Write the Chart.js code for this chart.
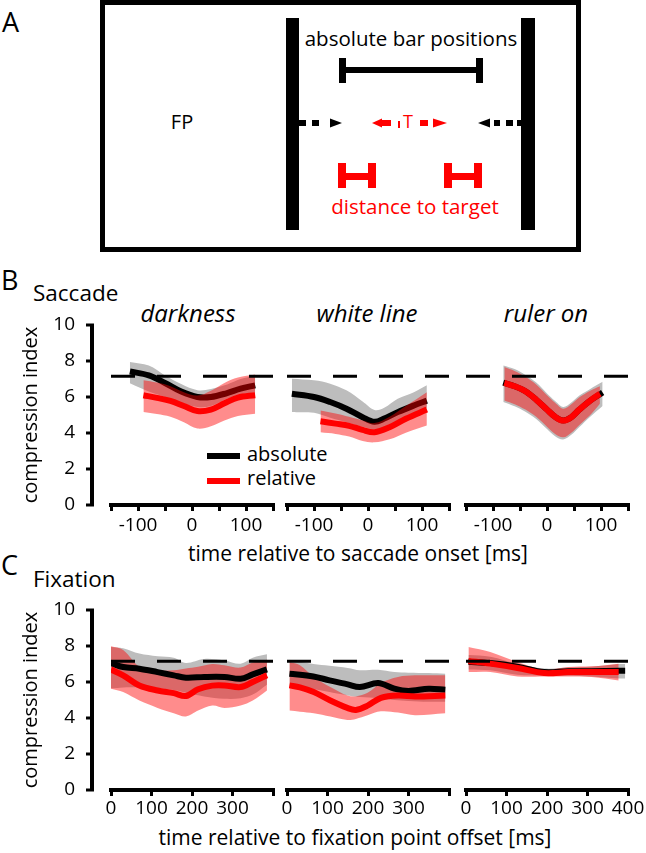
<!DOCTYPE html>
<html><head><meta charset="utf-8">
<script src="https://cdn.jsdelivr.net/npm/chart.js"></script>
<style>
html,body{margin:0;padding:0;background:#fff;}
#fig{position:relative;width:646px;height:853px;overflow:hidden;font-family:'Open Sans',sans-serif;color:#000;background:#fff;}
.t{position:absolute;white-space:nowrap;line-height:1;}
.c{transform:translateX(-50%);}
.lg{position:absolute;height:6px;width:33px;}
canvas{position:absolute;}
</style></head><body>
<div id="fig">
<svg width="646" height="256" style="position:absolute;left:0;top:0" font-family="'Open Sans', sans-serif">
 <rect x="102.5" y="2.5" width="476" height="247" fill="none" stroke="#000" stroke-width="5"/>
 <rect x="286" y="18" width="13" height="212" fill="#000"/>
 <rect x="521" y="18" width="14" height="212" fill="#000"/>
 <text x="411" y="46" font-size="20.5" text-anchor="middle" fill="#000">absolute bar positions</text>
 <rect x="342" y="67" width="138" height="6" fill="#000"/>
 <rect x="339" y="58" width="7" height="25" fill="#000"/>
 <rect x="476" y="58" width="7" height="25" fill="#000"/>
 <text x="182" y="129" font-size="20" text-anchor="middle" fill="#000">FP</text>
 <rect x="299" y="120" width="7" height="6" fill="#000"/>
 <rect x="312" y="120" width="7" height="6" fill="#000"/>
 <polygon points="330,118.5 342,123 330,127.5" fill="#000"/>
 <polygon points="382,118.5 372,123 382,127.5" fill="#f00"/>
 <rect x="382" y="120" width="9" height="6" fill="#f00"/>
 <rect x="398" y="121" width="2" height="7" fill="#f00"/>
 <text x="408" y="128" font-size="18" text-anchor="middle" fill="#f00">T</text>
 <rect x="420" y="120" width="8" height="6" fill="#f00"/>
 <polygon points="433,118.5 447,123 433,127.5" fill="#f00"/>
 <polygon points="490,118.5 478,123 490,127.5" fill="#000"/>
 <rect x="494" y="120" width="6" height="6" fill="#000"/>
 <rect x="506" y="120" width="7" height="6" fill="#000"/>
 <rect x="517" y="120" width="5" height="6" fill="#000"/>
 <rect x="338" y="163" width="8" height="25" fill="#f00"/>
 <rect x="368" y="163" width="8" height="25" fill="#f00"/>
 <rect x="346" y="173" width="22" height="7" fill="#f00"/>
 <rect x="444" y="163" width="8" height="25" fill="#f00"/>
 <rect x="474" y="163" width="8" height="25" fill="#f00"/>
 <rect x="452" y="173" width="22" height="7" fill="#f00"/>
 <text x="415" y="214" font-size="20.5" text-anchor="middle" fill="#f00">distance to target</text>
</svg>
<div class="t" style="left:2px;top:8px;font-size:27px">A</div>
<div class="t" style="left:1px;top:266px;font-size:27px">B</div>
<div class="t" style="left:1px;top:551px;font-size:27px">C</div>
<div class="t" style="left:33px;top:282px;font-size:22.5px">Saccade</div>
<div class="t" style="left:33px;top:568px;font-size:22.5px">Fixation</div>
<div class="t c" style="left:188px;top:301px;font-size:24px;font-style:italic">darkness</div>
<div class="t c" style="left:367px;top:301px;font-size:24px;font-style:italic">white line</div>
<div class="t c" style="left:546px;top:301px;font-size:24px;font-style:italic">ruler on</div>
<div class="lg" style="left:207px;top:453px;background:#000"></div>
<div class="lg" style="left:207px;top:478px;background:#f00"></div>
<div class="t" style="left:247px;top:444px;font-size:20px">absolute</div>
<div class="t" style="left:247px;top:468px;font-size:20px">relative</div>
<div class="t c" style="left:358px;top:543px;font-size:21px">time relative to saccade onset [ms]</div>
<div class="t c" style="left:355px;top:827px;font-size:21px">time relative to fixation point offset [ms]</div>
<canvas id="b1" width="285" height="232" style="left:0;top:313px"></canvas>
<canvas id="b2" width="186" height="232" style="left:275px;top:313px"></canvas>
<canvas id="b3" width="192" height="232" style="left:454px;top:313px"></canvas>
<canvas id="c1" width="285" height="232" style="left:0;top:598px"></canvas>
<canvas id="c2" width="186" height="232" style="left:275px;top:598px"></canvas>
<canvas id="c3" width="192" height="232" style="left:454px;top:598px"></canvas>
</div>
<script>
// ---- shared values ----
const refLevel = 7.15;
const yTicks = [0, 2, 4, 6, 8, 10];
const B_xTicks = [-150, -100, -50, 0, 50, 100, 150];
const B_xLabels = ['', '-100', '', '0', '', '100', ''];
const C_xTicks = [0, 100, 200, 300, 400];
const C_xLabels = ['0', '100', '200', '300', ''];
const C_xLabels3 = ['0', '100', '200', '300', '400'];

// ---- B: saccade, darkness ----
const B_dark_absT    = [-115, -80, -50, -20, 10, 35, 65, 90, 117];
const B_dark_absMean = [7.42, 7.2, 6.78, 6.3, 6.0, 6.0, 6.22, 6.46, 6.65];
const B_dark_absHi   = [7.95, 7.75, 7.2, 6.72, 6.38, 6.45, 6.7, 7.0, 7.2];
const B_dark_absLo   = [6.76, 6.3, 6.0, 5.7, 5.45, 5.5, 5.9, 6.15, 6.25];
const B_dark_relT    = [-90, -65, -40, -15, 10, 35, 60, 85, 117];
const B_dark_relMean = [6.1, 5.95, 5.78, 5.5, 5.22, 5.3, 5.65, 5.97, 6.1];
const B_dark_relHi   = [6.93, 6.8, 6.6, 6.27, 6.08, 6.35, 6.78, 7.08, 7.25];
const B_dark_relLo   = [5.16, 5.05, 4.9, 4.6, 4.25, 4.38, 4.7, 4.95, 5.07];

// ---- B: saccade, white line ----
const B_white_absT    = [-141, -100, -70, -40, -10, 12, 30, 55, 85, 109];
const B_white_absMean = [6.18, 6.0, 5.72, 5.35, 4.88, 4.62, 4.8, 5.16, 5.53, 5.8];
const B_white_absHi   = [7.02, 6.93, 6.74, 6.37, 5.75, 5.28, 5.4, 5.9, 6.27, 6.65];
const B_white_absLo   = [5.16, 5.12, 4.85, 4.6, 4.35, 4.2, 4.3, 4.6, 5.0, 5.4];
const B_white_relT    = [-88, -60, -35, -10, 12, 40, 70, 109];
const B_white_relMean = [4.65, 4.52, 4.4, 4.17, 4.04, 4.32, 4.79, 5.3];
const B_white_relHi   = [5.25, 5.08, 4.9, 4.7, 4.55, 4.9, 5.5, 6.27];
const B_white_relLo   = [4.04, 3.95, 3.8, 3.55, 3.48, 3.65, 4.02, 4.41];

// ---- B: saccade, ruler on ----
const B_ruler_absT    = [-81, -60, -40, -20, 0, 15, 30, 45, 60, 80, 103];
const B_ruler_absMean = [6.8, 6.6, 6.32, 5.85, 5.3, 4.9, 4.7, 4.88, 5.3, 5.8, 6.25];
const B_ruler_absHi   = [7.75, 7.55, 7.22, 6.8, 6.2, 5.78, 5.45, 5.7, 6.08, 6.45, 6.85];
const B_ruler_absLo   = [5.72, 5.48, 5.18, 4.78, 4.22, 3.82, 3.64, 3.9, 4.33, 4.9, 5.5];
const B_ruler_relT    = [-79, -60, -40, -20, 0, 15, 30, 45, 60, 80, 98];
const B_ruler_relMean = [6.78, 6.6, 6.32, 5.85, 5.3, 4.9, 4.69, 4.88, 5.3, 5.8, 6.18];
const B_ruler_relHi   = [7.67, 7.45, 7.13, 6.7, 6.1, 5.68, 5.35, 5.6, 5.98, 6.35, 6.6];
const B_ruler_relLo   = [5.81, 5.6, 5.3, 4.9, 4.35, 3.95, 3.76, 4.02, 4.45, 5.0, 5.63];

// ---- C: fixation, darkness ----
const C_dark_absT    = [0, 30, 70, 115, 155, 185, 230, 280, 320, 350, 385];
const C_dark_absMean = [7.05, 6.83, 6.74, 6.55, 6.37, 6.24, 6.28, 6.28, 6.18, 6.42, 6.7];
const C_dark_absHi   = [7.95, 7.88, 7.58, 7.43, 7.35, 7.06, 7.28, 7.2, 7.02, 7.35, 7.54];
const C_dark_absLo   = [5.65, 5.7, 5.7, 5.65, 5.55, 5.4, 5.2, 5.07, 5.1, 5.3, 5.85];
const C_dark_relT    = [0, 30, 70, 115, 155, 185, 215, 250, 280, 320, 350, 385];
const C_dark_relMean = [6.69, 6.37, 5.81, 5.53, 5.38, 5.22, 5.6, 5.8, 5.81, 5.72, 6.0, 6.37];
const C_dark_relHi   = [7.98, 7.78, 6.85, 6.65, 6.65, 6.75, 6.85, 7.0, 6.93, 6.8, 7.08, 7.24];
const C_dark_relLo   = [5.63, 5.44, 4.97, 4.56, 4.26, 4.08, 4.41, 4.69, 4.56, 4.69, 4.97, 5.53];

// ---- C: fixation, white line ----
const C_white_absT    = [6, 65, 105, 150, 180, 225, 265, 300, 350, 391];
const C_white_absMean = [6.46, 6.31, 6.09, 5.87, 5.72, 5.94, 5.63, 5.5, 5.63, 5.57];
const C_white_absHi   = [7.24, 7.0, 6.9, 6.78, 6.65, 6.68, 6.56, 6.52, 6.5, 6.46];
const C_white_absLo   = [5.7, 5.6, 5.44, 5.25, 5.16, 5.1, 5.0, 4.95, 4.9, 4.9];
const C_white_relT    = [6, 32, 66, 107, 149, 170, 199, 232, 274, 316, 391];
const C_white_relMean = [5.81, 5.7, 5.44, 4.97, 4.56, 4.45, 4.69, 5.12, 5.25, 5.2, 5.25];
const C_white_relHi   = [7.11, 6.93, 6.28, 5.72, 5.25, 5.2, 5.4, 5.95, 6.28, 6.37, 6.37];
const C_white_relLo   = [4.41, 4.35, 4.26, 4.08, 3.89, 3.95, 4.15, 4.37, 4.3, 4.15, 4.26];

// ---- C: fixation, ruler on ----
const C_ruler_absT    = [6, 60, 127, 193, 252, 310, 377, 393];
const C_ruler_absMean = [7.12, 7.05, 6.85, 6.55, 6.6, 6.6, 6.62, 6.62];
const C_ruler_absHi   = [7.5, 7.4, 7.0, 6.75, 6.8, 6.85, 7.0, 7.0];
const C_ruler_absLo   = [6.7, 6.65, 6.4, 6.35, 6.35, 6.3, 6.2, 6.2];
const C_ruler_relT    = [6, 60, 127, 193, 252, 310, 377];
const C_ruler_relMean = [7.17, 7.02, 6.78, 6.5, 6.55, 6.55, 6.55];
const C_ruler_relHi   = [7.95, 7.67, 7.11, 6.69, 6.83, 6.87, 7.02];
const C_ruler_relLo   = [6.55, 6.55, 6.31, 6.31, 6.31, 6.28, 6.09];

// ---- styles ----
const GRAY = '#bdbdbd';
const PINK = 'rgba(255,0,0,0.45)';
const TENSION = 0.35;

Chart.defaults.font.family = "'Open Sans', sans-serif";
Chart.defaults.color = '#000';

const offsetYAxis = {
  id: 'offsetYAxis',
  afterDraw(chart, args, opts) {
    if (!opts || !opts.enabled) return;
    const ys = chart.scales.y, ctx = chart.ctx;
    const x0 = chart.chartArea.left - opts.gap;
    ctx.save();
    ctx.strokeStyle = '#000';
    ctx.lineWidth = 4;
    ctx.beginPath();
    ctx.moveTo(x0, ys.getPixelForValue(ys.max) - 1.5);
    ctx.lineTo(x0, ys.getPixelForValue(ys.min) + 1.5);
    ctx.stroke();
    ctx.lineWidth = 3;
    ys.ticks.forEach(t => {
      const py = ys.getPixelForValue(t.value);
      ctx.beginPath(); ctx.moveTo(x0 - 2, py); ctx.lineTo(x0 - 6, py); ctx.stroke();
    });
    ctx.restore();
  }
};
Chart.register(offsetYAxis);

function pts(t, v) { return t.map((x, i) => ({ x: x, y: v[i] })); }

function panel(id, o) {
  const base = { pointRadius: 0, pointHoverRadius: 0, tension: TENSION, borderCapStyle: 'butt', borderJoinStyle: 'round' };
  const datasets = [
    Object.assign({}, base, { data: pts(o.absT, o.absHi), fill: '+1', backgroundColor: GRAY, borderWidth: 0, borderColor: 'transparent', order: 10 }),
    Object.assign({}, base, { data: pts(o.absT, o.absLo), fill: false, borderWidth: 0, borderColor: 'transparent', order: 9 }),
    Object.assign({}, base, { data: pts(o.absT, o.absMean), fill: false, borderWidth: 6, borderColor: '#000', order: o.blackOnTop ? 5 : 8 }),
    Object.assign({}, base, { data: pts(o.relT, o.relHi), fill: '+1', backgroundColor: PINK, borderWidth: 0, borderColor: 'transparent', order: 7 }),
    Object.assign({}, base, { data: pts(o.relT, o.relLo), fill: false, borderWidth: 0, borderColor: 'transparent', order: 6 }),
    Object.assign({}, base, { data: pts(o.relT, o.relMean), fill: false, borderWidth: 6, borderColor: '#ff0000', order: 4 }),
    Object.assign({}, base, { data: [{ x: o.xMin, y: refLevel }, { x: o.xMax, y: refLevel }], fill: false, borderWidth: 3, borderColor: '#000', borderDash: [24, 22], tension: 0, order: 1 })
  ];
  return new Chart(document.getElementById(id), {
    type: 'line',
    data: { datasets: datasets },
    options: {
      responsive: false,
      animation: false,
      events: [],
      layout: { padding: { left: o.padL, right: o.padR, top: 12, bottom: 0 } },
      plugins: { legend: { display: false }, tooltip: { enabled: false }, offsetYAxis: { enabled: o.showY, gap: 19 } },
      scales: {
        x: {
          type: 'linear', min: o.xMin, max: o.xMax,
          afterBuildTicks: s => { s.ticks = o.xTicks.map(v => ({ value: v })); },
          afterFit: s => { s.height = 40; },
          ticks: { autoSkip: false, maxRotation: 0, minRotation: 0, padding: o.labPad, color: '#000', font: { size: 19 },
                   callback: (v, i) => o.xLabels[i] },
          grid: { display: true, drawOnChartArea: false, drawTicks: true, tickLength: 6, lineWidth: 3, color: '#000' },
          border: { display: true, width: 4, color: '#000' }
        },
        y: {
          type: 'linear', min: 0, max: 10, display: o.showY,
          afterBuildTicks: s => { s.ticks = yTicks.map(v => ({ value: v })); },
          afterFit: s => { s.width = o.showY ? 111 : 0; s.paddingTop = 11; s.paddingBottom = 11; },
          ticks: { padding: 28, color: '#000', font: { size: 19 } },
          grid: { display: false },
          border: { display: false },
          title: { display: true, text: 'compression index', color: '#000', font: { size: 20 }, padding: { top: 19, bottom: 0 } }
        }
      }
    }
  });
}

panel('b1', { absT: B_dark_absT, absMean: B_dark_absMean, absHi: B_dark_absHi, absLo: B_dark_absLo,
  relT: B_dark_relT, relMean: B_dark_relMean, relHi: B_dark_relHi, relLo: B_dark_relLo,
  xMin: -150, xMax: 150, xTicks: B_xTicks, xLabels: B_xLabels, showY: true, blackOnTop: false, padL: 0, padR: 12, labPad: 3 });
panel('b2', { absT: B_white_absT, absMean: B_white_absMean, absHi: B_white_absHi, absLo: B_white_absLo,
  relT: B_white_relT, relMean: B_white_relMean, relHi: B_white_relHi, relLo: B_white_relLo,
  xMin: -150, xMax: 150, xTicks: B_xTicks, xLabels: B_xLabels, showY: false, blackOnTop: false, padL: 12, padR: 12, labPad: 3 });
panel('b3', { absT: B_ruler_absT, absMean: B_ruler_absMean, absHi: B_ruler_absHi, absLo: B_ruler_absLo,
  relT: B_ruler_relT, relMean: B_ruler_relMean, relHi: B_ruler_relHi, relLo: B_ruler_relLo,
  xMin: -150, xMax: 150, xTicks: B_xTicks, xLabels: B_xLabels, showY: false, blackOnTop: false, padL: 12, padR: 18, labPad: 3 });
panel('c1', { absT: C_dark_absT, absMean: C_dark_absMean, absHi: C_dark_absHi, absLo: C_dark_absLo,
  relT: C_dark_relT, relMean: C_dark_relMean, relHi: C_dark_relHi, relLo: C_dark_relLo,
  xMin: 0, xMax: 400, xTicks: C_xTicks, xLabels: C_xLabels, showY: true, blackOnTop: true, padL: 0, padR: 12, labPad: 1 });
panel('c2', { absT: C_white_absT, absMean: C_white_absMean, absHi: C_white_absHi, absLo: C_white_absLo,
  relT: C_white_relT, relMean: C_white_relMean, relHi: C_white_relHi, relLo: C_white_relLo,
  xMin: 0, xMax: 400, xTicks: C_xTicks, xLabels: C_xLabels, showY: false, blackOnTop: true, padL: 12, padR: 12, labPad: 1 });
panel('c3', { absT: C_ruler_absT, absMean: C_ruler_absMean, absHi: C_ruler_absHi, absLo: C_ruler_absLo,
  relT: C_ruler_relT, relMean: C_ruler_relMean, relHi: C_ruler_relHi, relLo: C_ruler_relLo,
  xMin: 0, xMax: 400, xTicks: C_xTicks, xLabels: C_xLabels3, showY: false, blackOnTop: true, padL: 12, padR: 18, labPad: 1 });
</script>
</body></html>
